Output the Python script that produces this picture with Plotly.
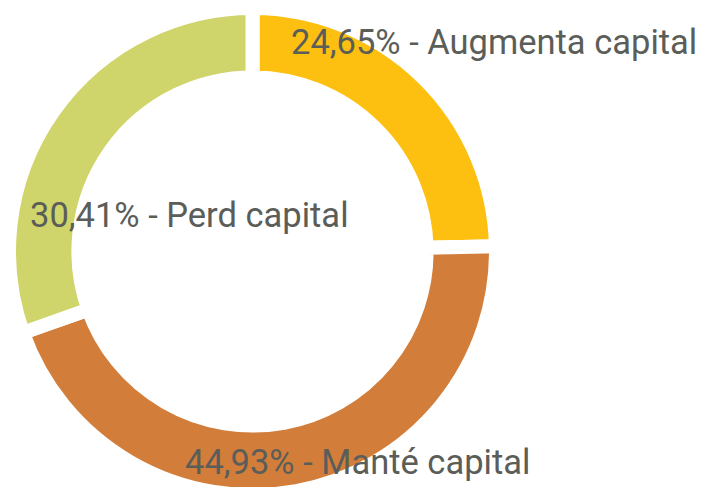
import plotly.graph_objects as go

labels = ["Augmenta capital", "Manté capital", "Perd capital"]
values = [24.65, 44.93, 30.41]
value_text = ["24,65%", "44,93%", "30,41%"]
colors = ["#FDC010", "#D27E3A", "#CFD56A"]

W, H = 710, 487
fig = go.Figure()
fig.add_trace(go.Pie(
    labels=labels, values=values, sort=False, direction="clockwise", rotation=0,
    hole=0.715, textinfo="none", hoverinfo="label+percent",
    marker=dict(colors=colors, line=dict(color="white", width=14)),
    domain=dict(x=[1 / W, 488 / W], y=[0, 1]), showlegend=False,
))

# label positions (pixels from top-left of the figure)
label_pos = [(281, 34), (175, 454), (20, 207)]
for (px, py), vt, lb in zip(label_pos, value_text, labels):
    fig.add_annotation(x=px / W, y=1 - py / H, xref="paper", yref="paper",
                       xanchor="left", yanchor="middle", showarrow=False,
                       text=f"{vt} - {lb}",
                       font=dict(family="Roboto", size=34.5, color="#5b5d59"))

fig.update_layout(width=W, height=H, margin=dict(l=0, r=0, t=0, b=0),
                  paper_bgcolor="white", plot_bgcolor="white")
fig.write_html("out.html")
